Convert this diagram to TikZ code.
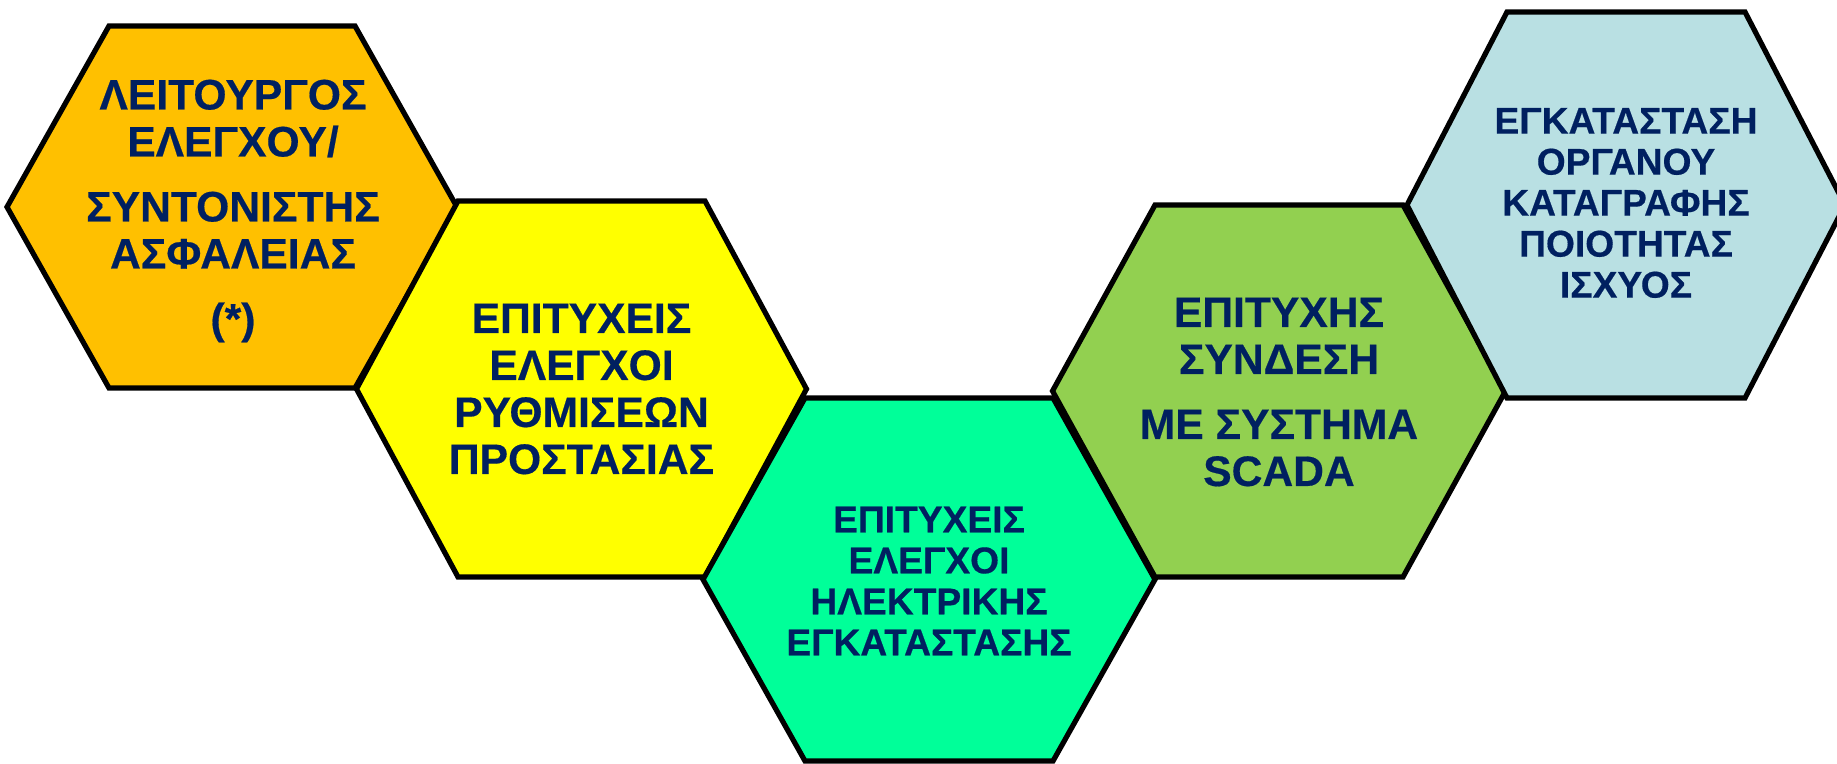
\documentclass[tikz,border=0pt]{standalone}
\usepackage{fontspec}
\setmainfont{Liberation Sans}[BoldFeatures={FakeBold=0.4}]
\definecolor{navytext}{RGB}{0,32,96}
\definecolor{cellorange}{HTML}{FFC000}
\definecolor{cellyellow}{HTML}{FFFF00}
\definecolor{cellmint}{HTML}{00FF99}
\definecolor{cellgreen}{HTML}{92D050}
\definecolor{cellblue}{HTML}{B9E0E3}

% one hexagonal cell: centre x, centre y, half width, half top edge, half height, fill
\newcommand\honeycell[6]{%
  \filldraw[cellline, fill=#6]
    (#1-#3,#2) -- (#1-#4,#2-#5) -- (#1+#4,#2-#5) --
    (#1+#3,#2) -- (#1+#4,#2+#5) -- (#1-#4,#2+#5) -- cycle;}

\tikzset{
  cellline/.style={draw=black, line width=2.6pt, line join=miter},
  celltext/.style={text=navytext, align=center, inner sep=0pt},
  bigtext/.style={celltext, font=\bfseries\fontsize{21.3}{23.5}\selectfont},
  smalltext/.style={celltext, font=\bfseries\fontsize{18.6}{20.5}\selectfont},
}

\begin{document}
\begin{tikzpicture}[x=0.5pt, y=-0.5pt]
  \useasboundingbox (0,0) rectangle (1837,764);
  \clip (0,0) rectangle (1837,764);

  \honeycell{232}{207}{225}{123}{181}{cellorange}
  \honeycell{581.5}{389}{225}{123.5}{188}{cellyellow}
  \honeycell{929}{579.5}{226}{124}{181.5}{cellmint}
  \honeycell{1279}{391}{226.5}{124}{186}{cellgreen}
  \honeycell{1626}{205}{219}{119}{193}{cellblue}

  \node[bigtext] (safety) at (233,211)
    {ΛΕΙΤΟΥΡΓΟΣ\\ΕΛΕΓΧΟΥ/\\[9pt]ΣΥΝΤΟΝΙΣΤΗΣ\\ΑΣΦΑΛΕΙΑΣ\\[9pt](*)};
  \node[bigtext] (protection) at (581.5,389)
    {ΕΠΙΤΥΧΕΙΣ\\ΕΛΕΓΧΟΙ\\ΡΥΘΜΙΣΕΩΝ\\ΠΡΟΣΤΑΣΙΑΣ};
  \node[smalltext] (electrical) at (929,581)
    {ΕΠΙΤΥΧΕΙΣ\\ΕΛΕΓΧΟΙ\\ΗΛΕΚΤΡΙΚΗΣ\\ΕΓΚΑΤΑΣΤΑΣΗΣ};
  \node[bigtext] (scada) at (1279,392)
    {ΕΠΙΤΥΧΗΣ\\ΣΥΝΔΕΣΗ\\[9pt]ΜΕ ΣΥΣΤΗΜΑ\\SCADA};
  \node[smalltext] (quality) at (1626,203)
    {ΕΓΚΑΤΑΣΤΑΣΗ\\ΟΡΓΑΝΟΥ\\ΚΑΤΑΓΡΑΦΗΣ\\ΠΟΙΟΤΗΤΑΣ\\ΙΣΧΥΟΣ};
\end{tikzpicture}
\end{document}
